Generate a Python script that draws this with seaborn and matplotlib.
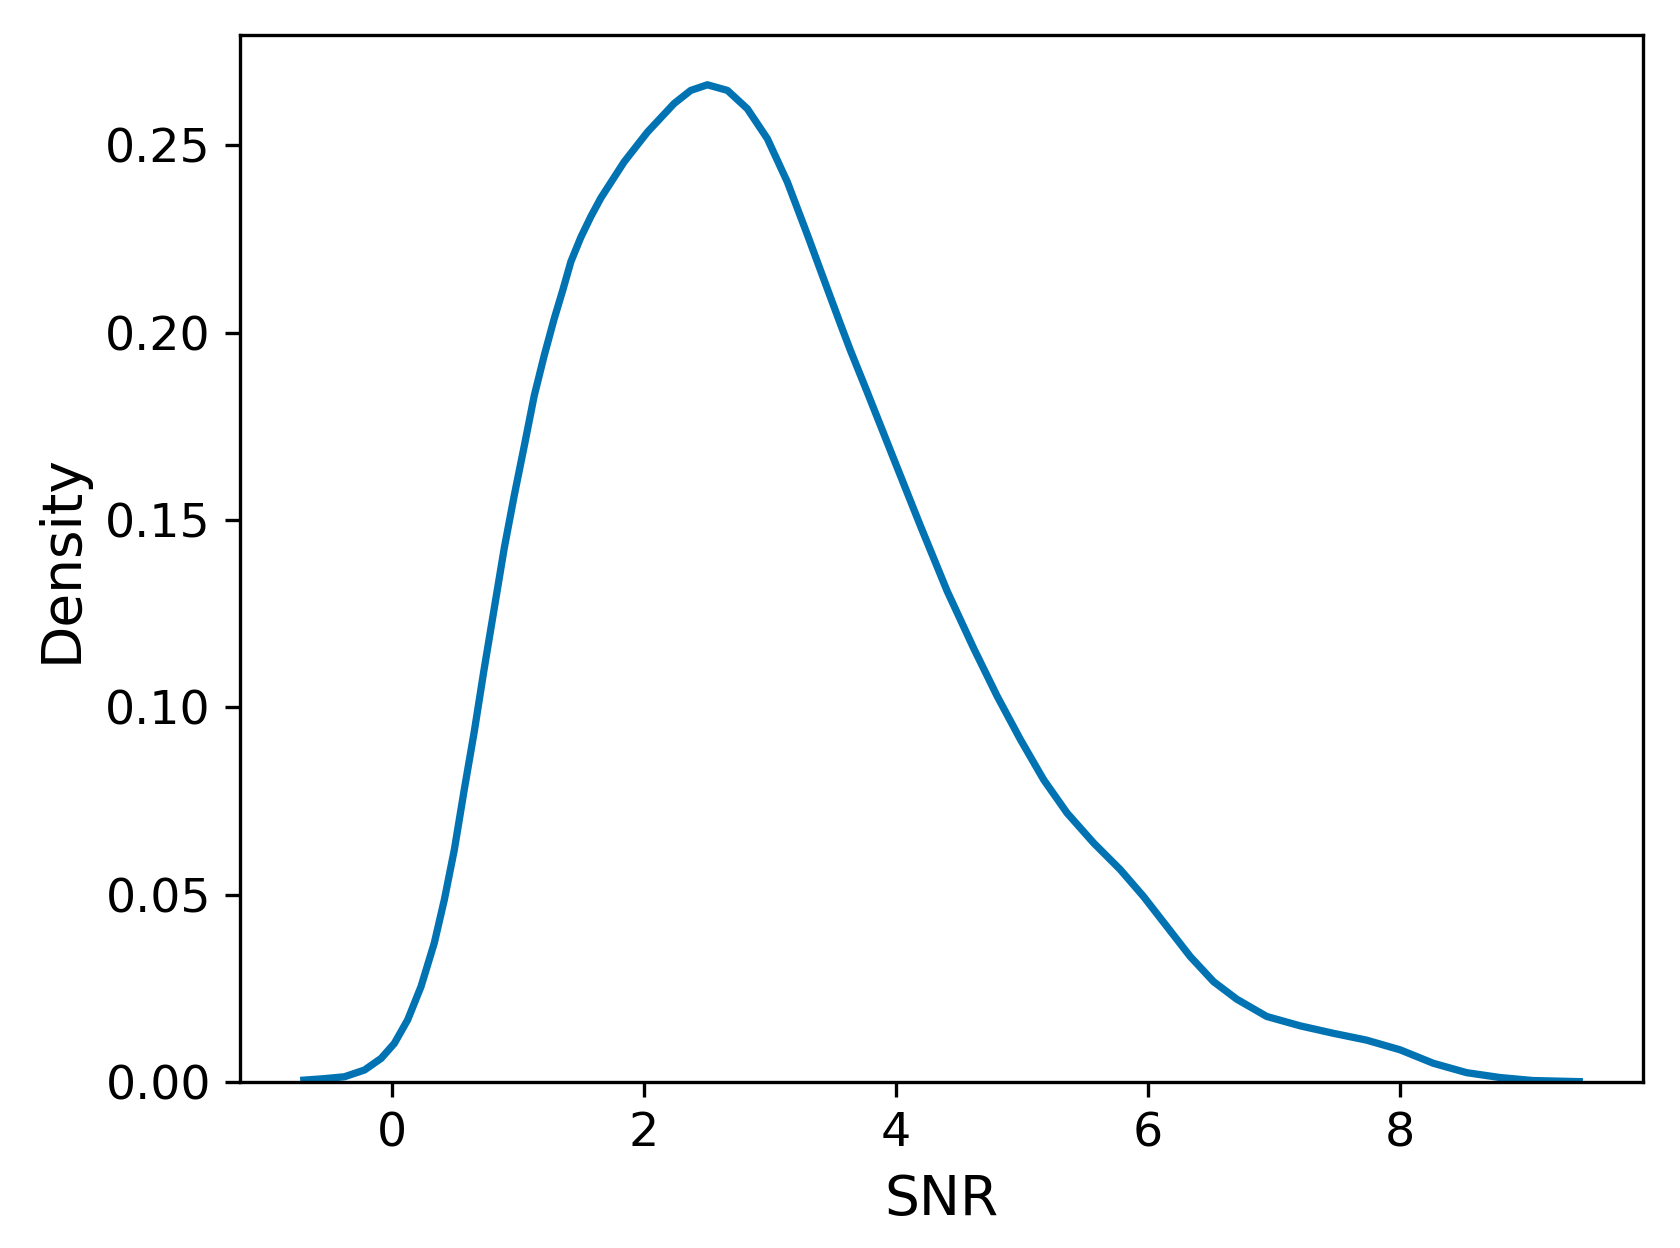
import numpy as np
import pandas as pd
import matplotlib
matplotlib.use("Agg")
import matplotlib.pyplot as plt
import seaborn as sns

snr = [-0.70, -0.537, -0.378, -0.219, -0.087, 0.018, 0.124, 0.230, 0.335,
       0.415, 0.494, 0.573, 0.652, 0.727, 0.811, 0.890, 0.969, 1.049, 1.128,
       1.207, 1.286, 1.353, 1.419, 1.498, 1.577, 1.657, 1.841, 2.027, 2.238,
       2.370, 2.502, 2.661, 2.819, 2.978, 3.137, 3.295, 3.453, 3.559, 3.638,
       3.771, 3.981, 4.193, 4.405, 4.616, 4.801, 4.986, 5.17, 5.356, 5.567,
       5.778, 5.963, 6.148, 6.333, 6.518, 6.703, 6.940, 7.205, 7.469, 7.73,
       7.998, 8.262, 8.526, 8.790, 9.05, 9.42]
density = [0.0005, 0.0009, 0.0014, 0.0032, 0.0063, 0.0103, 0.0166, 0.0255,
           0.0371, 0.0487, 0.0620, 0.0781, 0.0935, 0.1095, 0.1265, 0.1425,
           0.1565, 0.1698, 0.1832, 0.1939, 0.2037, 0.2112, 0.2190, 0.2255,
           0.2310, 0.2360, 0.2456, 0.2536, 0.2612, 0.2647, 0.2662, 0.2647,
           0.2598, 0.2518, 0.2402, 0.2262, 0.2118, 0.2022, 0.1952, 0.1841,
           0.1663, 0.1484, 0.1310, 0.1157, 0.1030, 0.0914, 0.0807, 0.0718,
           0.0638, 0.0567, 0.0495, 0.0415, 0.0335, 0.0268, 0.0221, 0.0175,
           0.0150, 0.0130, 0.0112, 0.0086, 0.0050, 0.0025, 0.0012, 0.0004,
           0.0001]

df = pd.DataFrame({"SNR": snr, "Density": density})

fig = plt.figure(figsize=(5.6, 4.16), dpi=300)
ax = fig.add_axes([0.1429, 0.133, 0.978 - 0.1429, 0.972 - 0.133])

sns.lineplot(data=df, x="SNR", y="Density", color="#0173b2", linewidth=1.75, ax=ax)
ax.lines[0].set_solid_joinstyle("round")

ax.set_ylim(bottom=0)
ax.set_xlabel("SNR", fontsize=13.2)
ax.set_ylabel("Density", fontsize=13.2)
ax.tick_params(labelsize=11.4)

fig.savefig("out.png", dpi=300)
